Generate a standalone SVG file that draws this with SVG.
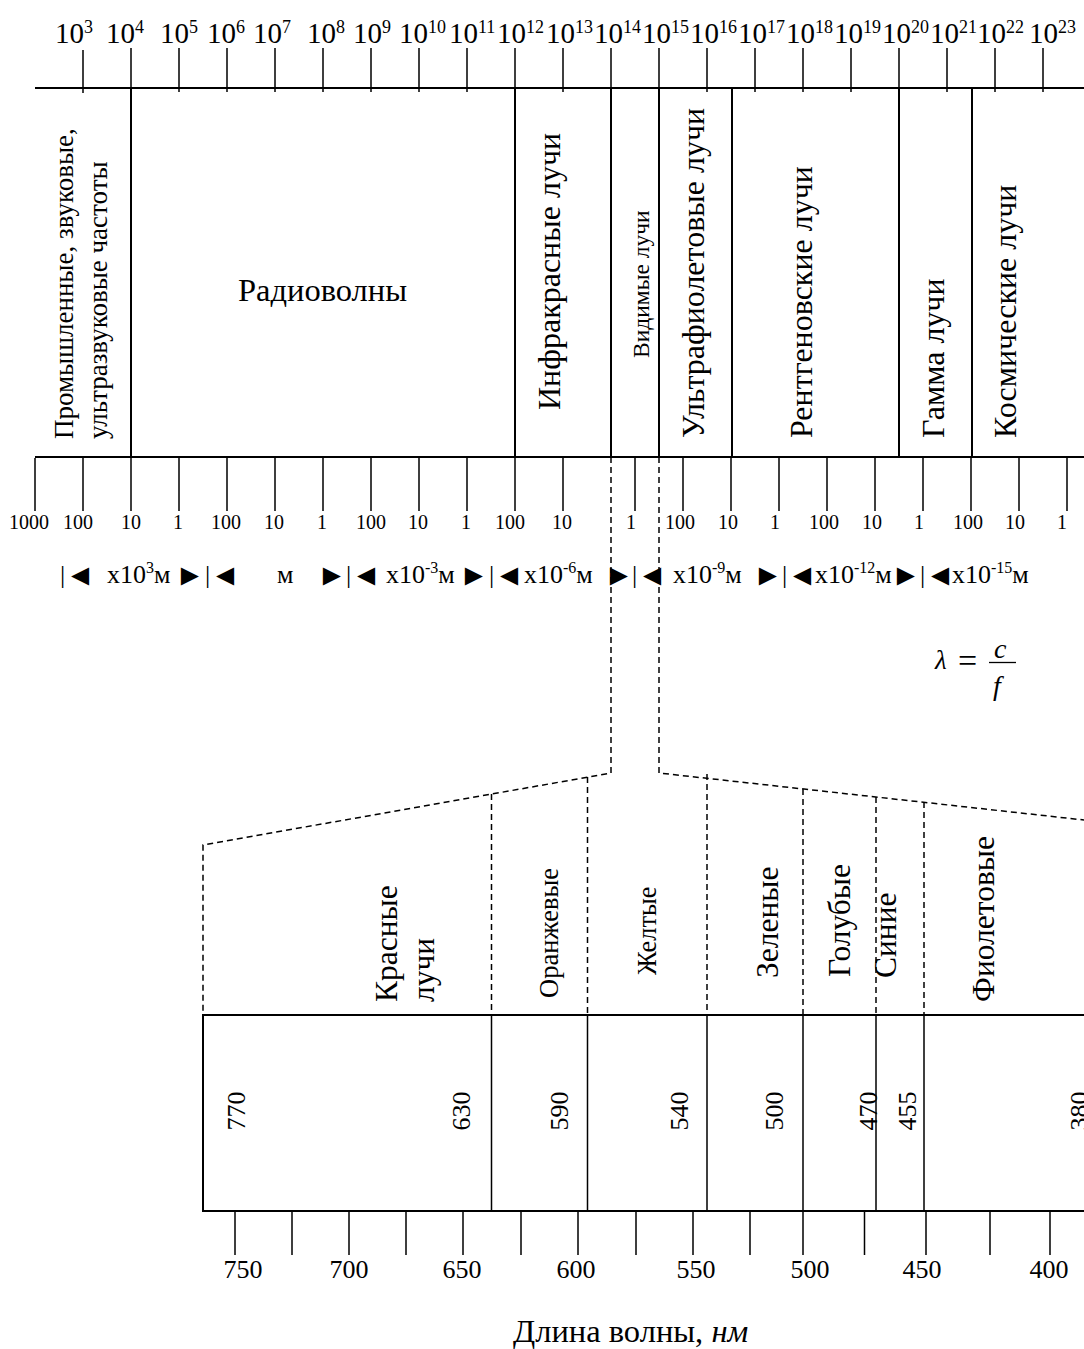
<svg xmlns="http://www.w3.org/2000/svg" width="1084" height="1349" viewBox="0 0 1084 1349">
<style>
  .t{font-family:"Liberation Serif","Times New Roman",serif;fill:#000}
  .ax{stroke:#000;stroke-width:2;fill:none}
  .tk{stroke:#000;stroke-width:1.5;fill:none}
  .ds{stroke:#000;stroke-width:1.5;fill:none;stroke-dasharray:6 4}
  .top{font-size:29px}
  .sup{font-size:18px}
  .rsup{font-size:16px}
  .bl{font-size:20px;text-anchor:middle}
  .rg{font-size:26px}
  .tri{font-size:30px}
  .lbl{font-size:32px}
  .clr{font-size:31.5px}
  .num{font-size:26px;text-anchor:middle}
  .nm{font-size:26px;text-anchor:middle}
</style>
<rect width="1084" height="1349" fill="#fff"/>

<g id="frequency-scale">
  <line class="ax" x1="35" y1="88" x2="1084" y2="88"/>
  <path class="tk" d="M83,50V93M131,48V93M179,48V92M227,48V92M275,48V92M323,48V92M371,48V92M419,48V92M467,48V92M515,48V92M563,48V92M611,48V92M659,48V92M707,48V92M755,48V92M803,48V92M851,48V92M899,48V92M947,48V92M995,48V92M1043,48V92"/>
  <text class="t top" x="55" y="43">10<tspan class="sup" dy="-10">3</tspan></text>
  <text class="t top" x="106" y="43">10<tspan class="sup" dy="-10">4</tspan></text>
  <text class="t top" x="160" y="43">10<tspan class="sup" dy="-10">5</tspan></text>
  <text class="t top" x="207" y="43">10<tspan class="sup" dy="-10">6</tspan></text>
  <text class="t top" x="253" y="43">10<tspan class="sup" dy="-10">7</tspan></text>
  <text class="t top" x="307" y="43">10<tspan class="sup" dy="-10">8</tspan></text>
  <text class="t top" x="353" y="43">10<tspan class="sup" dy="-10">9</tspan></text>
  <text class="t top" x="399" y="43">10<tspan class="sup" dy="-10">10</tspan></text>
  <text class="t top" x="449" y="43">10<tspan class="sup" dy="-10">11</tspan></text>
  <text class="t top" x="497" y="43">10<tspan class="sup" dy="-10">12</tspan></text>
  <text class="t top" x="546" y="43">10<tspan class="sup" dy="-10">13</tspan></text>
  <text class="t top" x="594" y="43">10<tspan class="sup" dy="-10">14</tspan></text>
  <text class="t top" x="642" y="43">10<tspan class="sup" dy="-10">15</tspan></text>
  <text class="t top" x="690" y="43">10<tspan class="sup" dy="-10">16</tspan></text>
  <text class="t top" x="738" y="43">10<tspan class="sup" dy="-10">17</tspan></text>
  <text class="t top" x="786" y="43">10<tspan class="sup" dy="-10">18</tspan></text>
  <text class="t top" x="834" y="43">10<tspan class="sup" dy="-10">19</tspan></text>
  <text class="t top" x="882" y="43">10<tspan class="sup" dy="-10">20</tspan></text>
  <text class="t top" x="930" y="43">10<tspan class="sup" dy="-10">21</tspan></text>
  <text class="t top" x="977" y="43">10<tspan class="sup" dy="-10">22</tspan></text>
  <text class="t top" x="1029" y="43">10<tspan class="sup" dy="-10">23</tspan></text>
</g>

<g id="band-boundaries">
  <path class="ax" d="M131,88V457M515,88V457M611,88V457M659,88V457M732,88V457M899,88V457M972,88V457"/>
</g>

<g id="industrial">
  <text class="t" font-size="27" transform="translate(73,439) rotate(-90)">Промышленные, звуковые,</text>
  <text class="t" font-size="27" transform="translate(107,439) rotate(-90)">ультразвуковые частоты</text>
</g>
<g id="radio">
  <text class="t" font-size="32.5" x="238" y="301">Радиоволны</text>
</g>
<g id="infrared">
  <text class="t lbl" transform="translate(560,410) rotate(-90)">Инфракрасные лучи</text>
</g>
<g id="visible">
  <text class="t" font-size="23.5" transform="translate(649,358) rotate(-90)">Видимые лучи</text>
</g>
<g id="ultraviolet">
  <text class="t lbl" transform="translate(703.5,438) rotate(-90)">Ультрафиолетовые лучи</text>
</g>
<g id="xray">
  <text class="t lbl" transform="translate(811.5,438) rotate(-90)">Рентгеновские лучи</text>
</g>
<g id="gamma">
  <text class="t lbl" transform="translate(944,438) rotate(-90)">Гамма лучи</text>
</g>
<g id="cosmic">
  <text class="t lbl" transform="translate(1016,438) rotate(-90)">Космические лучи</text>
</g>

<g id="wavelength-scale">
  <line class="ax" x1="35" y1="457" x2="1084" y2="457"/>
  <path class="tk" d="M35,458V511M83,458V511M131,458V511M179,458V511M227,458V511M275,458V511M323,458V511M371,458V511M419,458V511M467,458V511M515,458V511M563,458V511M635,458V511M683,458V511M731,458V511M779,458V511M827,458V511M875,458V511M923,458V511M971,458V511M1019,458V511M1067,458V511"/>
  <g class="t bl">
    <text x="29" y="529">1000</text>
    <text x="78" y="529">100</text>
    <text x="131" y="529">10</text>
    <text x="178" y="529">1</text>
    <text x="226" y="529">100</text>
    <text x="274" y="529">10</text>
    <text x="322" y="529">1</text>
    <text x="371" y="529">100</text>
    <text x="418" y="529">10</text>
    <text x="466" y="529">1</text>
    <text x="510" y="529">100</text>
    <text x="562" y="529">10</text>
    <text x="631" y="529">1</text>
    <text x="680" y="529">100</text>
    <text x="728" y="529">10</text>
    <text x="775" y="529">1</text>
    <text x="824" y="529">100</text>
    <text x="872" y="529">10</text>
    <text x="919" y="529">1</text>
    <text x="968" y="529">100</text>
    <text x="1015" y="529">10</text>
    <text x="1062" y="529">1</text>
  </g>
</g>

<g id="units-row" class="t rg">
  <text x="60" y="583">|<tspan class="tri" dy="2">◄</tspan></text>
  <text x="107" y="583">x10<tspan class="rsup" dy="-10">3</tspan><tspan dy="10">м</tspan></text>
  <text class="tri" x="175" y="585">►</text>
  <text x="205" y="583">|<tspan class="tri" dy="2">◄</tspan></text>
  <text x="277" y="583">м</text>
  <text class="tri" x="317" y="585">►</text>
  <text x="346" y="583">|<tspan class="tri" dy="2">◄</tspan></text>
  <text x="386" y="583">x10<tspan class="rsup" dy="-10">-3</tspan><tspan dy="10">м</tspan></text>
  <text class="tri" x="459" y="585">►</text>
  <text x="489" y="583">|<tspan class="tri" dy="2">◄</tspan></text>
  <text x="524" y="583">x10<tspan class="rsup" dy="-10">-6</tspan><tspan dy="10">м</tspan></text>
  <text class="tri" x="604" y="585">►</text>
  <text x="632" y="583">|<tspan class="tri" dy="2">◄</tspan></text>
  <text x="673" y="583">x10<tspan class="rsup" dy="-10">-9</tspan><tspan dy="10">м</tspan></text>
  <text class="tri" x="753" y="585">►</text>
  <text x="782" y="583">|<tspan class="tri" dy="2">◄</tspan></text>
  <text x="815" y="583">x10<tspan class="rsup" dy="-10">-12</tspan><tspan dy="10">м</tspan></text>
  <text class="tri" x="891" y="585">►</text>
  <text x="920" y="583">|<tspan class="tri" dy="2">◄</tspan></text>
  <text x="952" y="583">x10<tspan class="rsup" dy="-10">-15</tspan><tspan dy="10">м</tspan></text>
</g>

<g id="formula" class="t" font-style="italic">
  <text x="935" y="669" font-size="27">λ</text>
  <text x="958" y="672" font-size="34" font-style="normal">=</text>
  <text x="994" y="658" font-size="28">c</text>
  <line x1="989" y1="662.5" x2="1016" y2="662.5" stroke="#000" stroke-width="1.3"/>
  <text x="993" y="695" font-size="28">f</text>
</g>

<g id="connectors">
  <path class="ds" d="M611,457V773L203,845V1015"/>
  <path class="ds" d="M659,457V773L1084,820"/>
  <path class="ds" d="M491.5,794V1015M587.5,777V1015M707,774V1015M803,789V1015M876,797V1015M924,802V1015"/>
</g>

<g id="red"><text class="t clr" transform="translate(397,1002) rotate(-90)">Красные</text>
  <text class="t clr" transform="translate(433.5,1002) rotate(-90)">лучи</text></g>
<g id="orange"><text class="t" font-size="26.5" transform="translate(558,998) rotate(-90)">Оранжевые</text></g>
<g id="yellow"><text class="t" font-size="26.5" transform="translate(656,975) rotate(-90)">Желтые</text></g>
<g id="green"><text class="t clr" transform="translate(777.5,978) rotate(-90)">Зеленые</text></g>
<g id="lightblue"><text class="t clr" transform="translate(849.5,977) rotate(-90)">Голубые</text></g>
<g id="blue"><text class="t clr" transform="translate(896,978) rotate(-90)">Синие</text></g>
<g id="violet"><text class="t clr" transform="translate(994,1002) rotate(-90)">Фиолетовые</text></g>

<g id="visible-spectrum">
  <path class="ax" d="M1084,1015H203V1211H1084"/>
  <path class="tk" d="M491.5,1015V1211M587.5,1015V1211M707,1015V1211M803,1015V1211M876,1015V1211M924,1015V1211"/>
  <g class="t num">
    <text transform="translate(245,1111) rotate(-90)">770</text>
    <text transform="translate(470,1111) rotate(-90)">630</text>
    <text transform="translate(568,1111) rotate(-90)">590</text>
    <text transform="translate(688,1111) rotate(-90)">540</text>
    <text transform="translate(783,1111) rotate(-90)">500</text>
    <text transform="translate(877,1111) rotate(-90)">470</text>
    <text transform="translate(916,1111) rotate(-90)">455</text>
    <text transform="translate(1088,1111) rotate(-90)">380</text>
  </g>
</g>

<g id="nm-scale">
  <path class="tk" d="M235,1211V1255M292,1211V1255M349,1211V1255M406,1211V1255M463,1211V1255M521,1211V1255M578,1211V1255M636,1211V1255M693,1211V1255M750,1211V1255M803,1211V1255M864.5,1211V1255M926,1211V1255M990,1211V1255M1050,1211V1255"/>
  <g class="t nm">
    <text x="243" y="1278">750</text>
    <text x="349" y="1278">700</text>
    <text x="462" y="1278">650</text>
    <text x="576" y="1278">600</text>
    <text x="696" y="1278">550</text>
    <text x="810" y="1278">500</text>
    <text x="922" y="1278">450</text>
    <text x="1049" y="1278">400</text>
  </g>
  <text class="t" font-size="32.5" x="513" y="1342">Длина волны, <tspan font-style="italic">нм</tspan></text>
</g>
</svg>
